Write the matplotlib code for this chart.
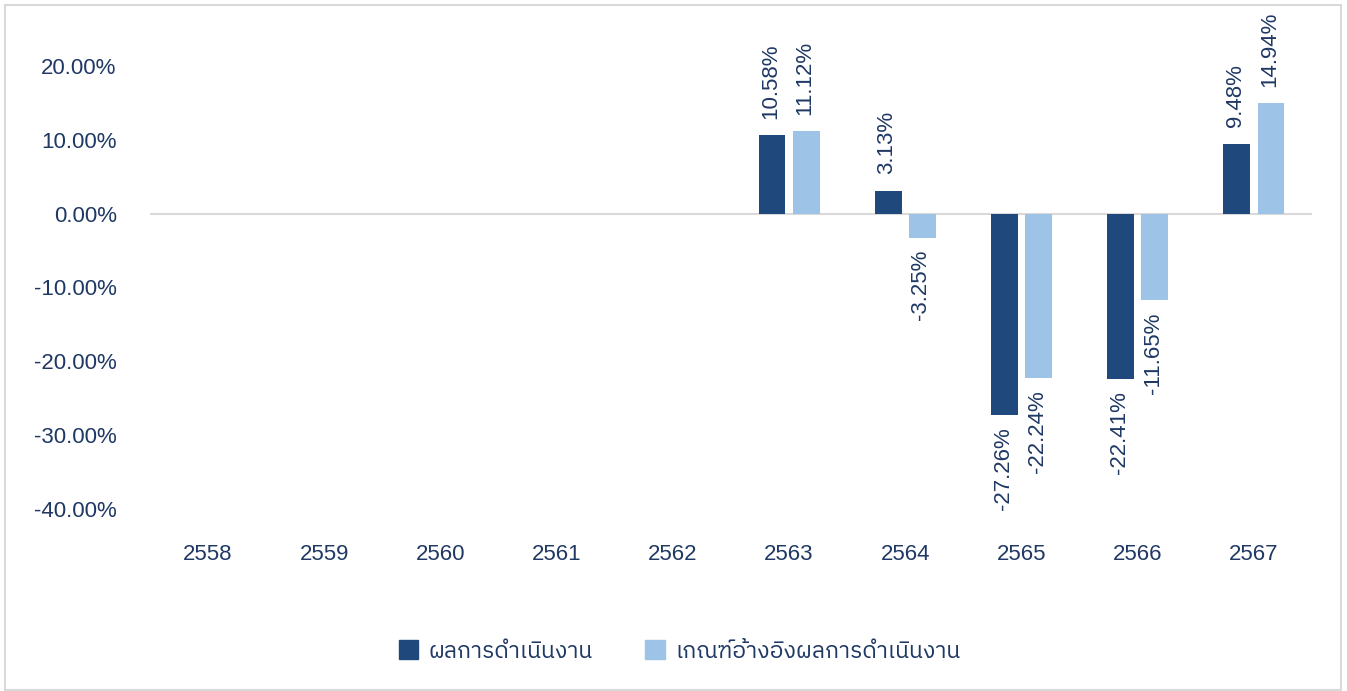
import numpy as np
import matplotlib
matplotlib.use('Agg')
import matplotlib.pyplot as plt
from matplotlib import font_manager
from matplotlib.ft2font import FT2Font
from matplotlib.patches import Patch, Rectangle

years = ['2558', '2559', '2560', '2561', '2562', '2563', '2564', '2565', '2566', '2567']
fund = [np.nan, np.nan, np.nan, np.nan, np.nan, 10.58, 3.13, -27.26, -22.41, 9.48]
bench = [np.nan, np.nan, np.nan, np.nan, np.nan, 11.12, -3.25, -22.24, -11.65, 14.94]
series_names = ['ผลการดำเนินงาน', 'เกณฑ์อ้างอิงผลการดำเนินงาน']
yticks = [-40, -30, -20, -10, 0, 10, 20]

# find something that can draw Thai
thai_font = None
for f in font_manager.fontManager.ttflist:
    try:
        if 0x0E01 in FT2Font(f.fname).get_charmap():
            thai_font = f.name
            if 'Thai' in f.name:
                break
    except Exception:
        pass

fams = ['Liberation Sans']
if thai_font:
    fams.append(thai_font)
fams.append('DejaVu Sans')
plt.rcParams['font.family'] = fams

txt = '#1F3864'
dark = '#1F497D'
light = '#9DC3E6'

fig = plt.figure(figsize=(13.47, 6.91), dpi=100)
ax = fig.add_axes([150/1347, 1-509/691, (1312-150)/1347, (509-29)/691])
fig.patches.append(Rectangle((5/1347, 1/691), 1336/1347, 685/691, transform=fig.transFigure,
                             fill=False, edgecolor='#D9D9D9', linewidth=1.5))

x = np.arange(len(years))
w = 0.232
off = 0.147
ax.bar(x - off, fund, w, color=dark, label=series_names[0])
ax.bar(x + off, bench, w, color=light, label=series_names[1])

for xs, vals in [(x - off, fund), (x + off, bench)]:
    for xi, v in zip(xs, vals):
        if np.isnan(v):
            continue
        ax.annotate(f'{v:.2f}%', (xi, v), xytext=(-1, 12 if v > 0 else -9),
                    textcoords='offset points', rotation=90, ha='center',
                    va='bottom' if v > 0 else 'top', fontsize=16, color=txt)

ax.axhline(0, color='#D9D9D9', linewidth=1.5, zorder=0)
ax.set_xlim(-0.5, 9.5)
ax.set_ylim(-40, 25)
ax.set_xticks(x)
ax.set_xticklabels(years)
ax.set_yticks(yticks)
ax.set_yticklabels([f'{t:.2f}%' for t in yticks])
ax.tick_params(axis='x', length=0, pad=25, labelsize=16, labelcolor=txt)
ax.tick_params(axis='y', length=0, pad=24, labelsize=16, labelcolor=txt)
for s in ax.spines.values():
    s.set_visible(False)

handles = [Patch(color=dark), Patch(color=light)]
fig.legend(handles, series_names, loc='center', bbox_to_anchor=(0.5045, 1-651/691), ncol=2,
           frameon=False, handlelength=0.85, handleheight=0.85, handletextpad=0.45,
           columnspacing=2.3, fontsize=16.5, labelcolor=txt)

fig.savefig('out.png', dpi=100)
